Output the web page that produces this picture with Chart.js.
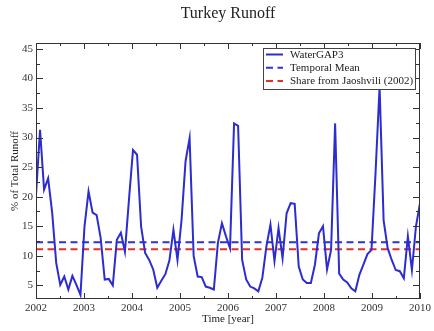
<!DOCTYPE html>
<html>
<head>
<meta charset="utf-8">
<title>Turkey Runoff</title>
<script src="https://cdn.jsdelivr.net/npm/chart.js@4"></script>
<style>
  html, body { margin: 0; padding: 0; background: #fff; }
  #wrap { width: 434px; height: 331px; }
</style>
</head>
<body>
<div id="wrap"><canvas id="runoffChart" width="434" height="331"></canvas></div>
<script>
// monthly share of total runoff (%), WaterGAP3, Jan..Dec of each year
const runoff2002 = [20.3, 31.3, 21.2, 23.1, 17.3, 8.8, 5.1, 6.5, 4.3, 6.6, 5.1, 3.4];
const runoff2003 = [15.0, 20.9, 17.3, 16.9, 13.0, 6.0, 6.1, 5.0, 12.7, 13.9, 10.7, 19.5];
const runoff2004 = [27.9, 27.1, 15.0, 10.5, 9.3, 7.7, 4.6, 5.8, 6.9, 9.2, 14.4, 9.3];
const runoff2005 = [16.0, 26.0, 29.9, 10.0, 6.5, 6.4, 4.8, 4.6, 4.3, 12.2, 15.5, 13.3];
const runoff2006 = [11.3, 32.4, 32.0, 9.3, 6.0, 4.8, 4.5, 4.0, 6.3, 11.6, 15.3, 9.1];
const runoff2007 = [14.7, 9.6, 17.2, 18.9, 18.8, 8.2, 6.0, 5.4, 5.4, 8.5, 13.8, 15.0];
const runoff2008 = [7.7, 11.0, 32.4, 7.0, 6.0, 5.5, 4.5, 4.0, 6.8, 8.5, 10.3, 11.0];
const runoff2009 = [24.0, 38.6, 16.0, 11.3, 9.3, 7.6, 7.4, 6.2, 13.3, 7.6, 15.0, 18.9];

const waterGap3 = [].concat(runoff2002, runoff2003, runoff2004, runoff2005,
                            runoff2006, runoff2007, runoff2008, runoff2009);

const temporalMean = 12.3;     // dashed blue
const jaoshviliShare = 11.1;   // dashed red

const startYear = 2002;
const endYear = 2010;
const yearTicks = [2002, 2003, 2004, 2005, 2006, 2007, 2008, 2009, 2010];
const halfYearTicks = [2002.5, 2003.5, 2004.5, 2005.5, 2006.5, 2007.5, 2008.5, 2009.5];
const yTicks = [5, 10, 15, 20, 25, 30, 35, 40, 45];
const yMinorTicks = [7.5, 12.5, 17.5, 22.5, 27.5, 32.5, 37.5, 42.5];

const SERIF = "'Liberation Serif', 'Times New Roman', serif";
Chart.defaults.font.family = SERIF;
Chart.defaults.color = '#333';

// xmgrace style frame, inward ticks, inset legend and title
const graceFrame = {
    id: 'graceFrame',
    afterDraw(chart) {
        const {ctx, chartArea: a, scales: {x, y}} = chart;
        ctx.save();
        ctx.strokeStyle = '#333';
        ctx.lineWidth = 1;
        ctx.strokeRect(a.left + 0.5, a.top + 0.5, a.right - a.left - 1, a.bottom - a.top - 1);

        ctx.beginPath();
        const xTick = (v, len) => {
            const px = Math.round(x.getPixelForValue(v)) + 0.5;
            ctx.moveTo(px, a.bottom); ctx.lineTo(px, a.bottom - len);
            ctx.moveTo(px, a.top); ctx.lineTo(px, a.top + len);
        };
        const yTick = (v, len) => {
            const py = Math.round(y.getPixelForValue(v)) + 0.5;
            ctx.moveTo(a.left, py); ctx.lineTo(a.left + len, py);
            ctx.moveTo(a.right, py); ctx.lineTo(a.right - len, py);
        };
        yearTicks.forEach(v => xTick(v, 6));
        halfYearTicks.forEach(v => xTick(v, 3));
        yTicks.forEach(v => yTick(v, 7));
        yMinorTicks.forEach(v => yTick(v, 4));
        ctx.stroke();

        // legend box
        const boxW = 152, boxH = 41;
        const bx = a.right - 5 - boxW, by = a.top + 5;
        ctx.fillStyle = '#fff';
        ctx.fillRect(bx, by, boxW, boxH);
        ctx.strokeStyle = '#444';
        ctx.strokeRect(bx + 0.5, by + 0.5, boxW, boxH);
        ctx.font = '11px ' + SERIF;
        ctx.textBaseline = 'middle';
        ctx.textAlign = 'left';
        chart.data.datasets.forEach((ds, i) => {
            const ry = by + 6.5 + i * 13.2;
            ctx.strokeStyle = ds.borderColor;
            ctx.lineWidth = 2;
            ctx.setLineDash(ds.borderDash || []);
            ctx.beginPath();
            ctx.moveTo(bx + 3, ry); ctx.lineTo(bx + 20, ry);
            ctx.stroke();
            ctx.setLineDash([]);
            ctx.fillStyle = '#222';
            ctx.fillText(ds.label, bx + 27, ry + 0.5);
        });

        // title
        ctx.font = '16px ' + SERIF;
        ctx.textAlign = 'center';
        ctx.textBaseline = 'alphabetic';
        ctx.fillStyle = '#222';
        ctx.fillText('Turkey Runoff', (a.left + a.right) / 2, 18);
        ctx.restore();
    }
};

const toPoints = vals => vals.map((v, i) => ({
    x: startYear + i * (endYear - startYear) / (vals.length - 1),
    y: v
}));
const flat = v => [{x: startYear, y: v}, {x: endYear, y: v}];

new Chart(document.getElementById('runoffChart'), {
    type: 'line',
    data: {
        datasets: [{
            label: 'WaterGAP3',
            data: toPoints(waterGap3),
            borderColor: '#2c2cd0',
            borderWidth: 2,
            pointRadius: 0,
            tension: 0
        }, {
            label: 'Temporal Mean',
            data: flat(temporalMean),
            borderColor: '#3030d8',
            borderWidth: 2,
            borderDash: [7, 4.5],
            pointRadius: 0
        }, {
            label: 'Share from Jaoshvili (2002)',
            data: flat(jaoshviliShare),
            borderColor: '#e0302a',
            borderWidth: 2,
            borderDash: [7, 4.5],
            pointRadius: 0
        }]
    },
    options: {
        responsive: false,
        animation: false,
        devicePixelRatio: 1,
        layout: {padding: {top: 43, right: 12, left: 0, bottom: 0}},
        plugins: {
            legend: {display: false},
            title: {display: false},
            tooltip: {enabled: false}
        },
        scales: {
            x: {
                type: 'linear',
                min: startYear,
                max: endYear,
                grid: {display: false, drawTicks: false},
                border: {display: false},
                afterBuildTicks: s => { s.ticks = yearTicks.map(v => ({value: v})); },
                afterFit: s => { s.height = 32; },
                ticks: {
                    padding: 3,
                    font: {size: 11},
                    color: '#333',
                    maxRotation: 0,
                    callback: v => String(v)
                },
                title: {
                    display: true,
                    text: 'Time [year]',
                    font: {size: 11},
                    color: '#222',
                    padding: {top: 0, bottom: 5}
                }
            },
            y: {
                min: 2.7,
                max: 46,
                grid: {display: false, drawTicks: false},
                border: {display: false},
                afterBuildTicks: s => { s.ticks = yTicks.map(v => ({value: v})); },
                afterFit: s => { s.width = 36; },
                ticks: {
                    padding: 3,
                    font: {size: 11},
                    color: '#333'
                },
                title: {
                    display: true,
                    text: '% of Total Runoff',
                    font: {size: 11},
                    color: '#222',
                    padding: {top: 9, bottom: 0}
                }
            }
        }
    },
    plugins: [graceFrame]
});
</script>
</body>
</html>
